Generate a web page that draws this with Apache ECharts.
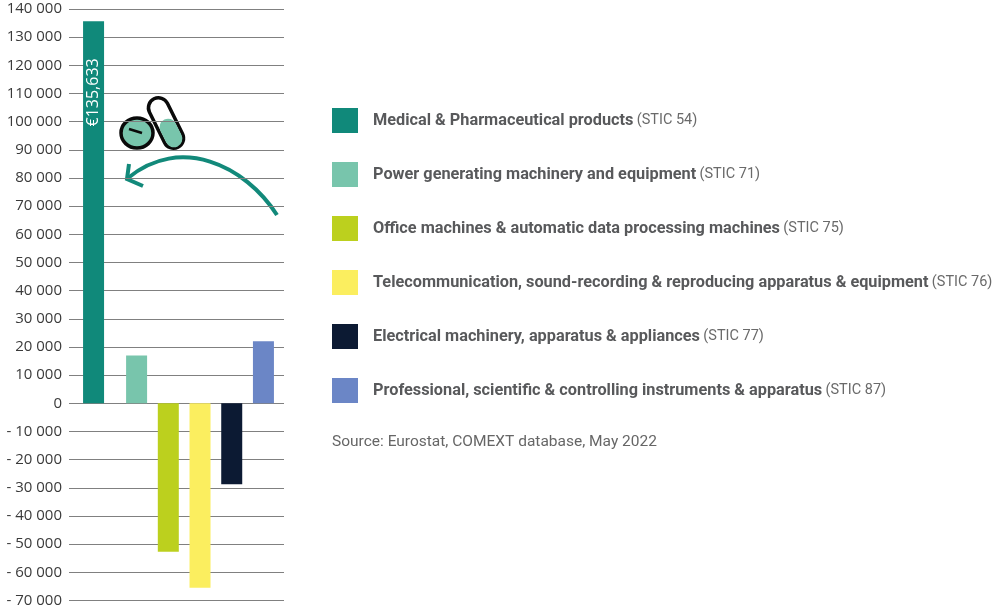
<!DOCTYPE html>
<html>
<head>
<meta charset="utf-8">
<style>
html, body { margin: 0; padding: 0; background: #fff; }
#chart { width: 995px; height: 608px; }
</style>
<script src="https://cdn.jsdelivr.net/npm/echarts@6/dist/echarts.min.js"></script>
</head>
<body>
<div id="chart"></div>
<script>
const productNames = [
	'Medical & Pharmaceutical products',
	'Power generating machinery and equipment',
	'Office machines & automatic data processing machines',
	'Telecommunication, sound-recording & reproducing apparatus & equipment',
	'Electrical machinery, apparatus & appliances',
	'Professional, scientific & controlling instruments & apparatus',
]
const sticCodes = ['STIC 54', 'STIC 71', 'STIC 75', 'STIC 76', 'STIC 77', 'STIC 87']
const balanceValues = [135633, 17000, -52700, -65500, -28700, 22000]
const barColors = ['#10897a', '#78c5ac', '#bcd01e', '#fbee5f', '#0c1a33', '#6b86c6']
const sourceText = 'Source: Eurostat, COMEXT database, May 2022'

const seriesNames = productNames.map((n, i) => `${n} (${sticCodes[i]})`)
const axisFont = '"Open Sans", "Noto Sans", sans-serif'
const legendFont = 'Roboto, "Noto Sans", sans-serif'

const bars = balanceValues.map((v, i) => ({
	type: 'bar',
	name: seriesNames[i],
	data: [v],
	barWidth: 21,
	barGap: '51%',
	itemStyle: { color: barColors[i] },
	label: i === 0 ? {
		show: true,
		position: 'insideTop',
		distance: 37,
		rotate: 90,
		align: 'right',
		verticalAlign: 'middle',
		color: '#fff',
		fontFamily: axisFont,
		fontSize: 16,
		formatter: () => '€' + v.toLocaleString('en-US'),
	} : { show: false },
}))
// empty bar, only there to open the wider gap after the first bar
bars.splice(1, 0, { type: 'bar', name: 'gap', data: [null], barWidth: 7.5, barGap: '51%' })

const myChart = echarts.init(document.getElementById('chart'))
myChart.setOption({
	animation: false,
	title: {
		text: sourceText,
		left: 332,
		top: 434,
		padding: 0,
		textStyle: { color: '#666', fontFamily: legendFont, fontSize: 15.5, fontWeight: 'normal' },
	},
	grid: { left: 73, right: 711, top: 9, height: 592, containLabel: false },
	legend: {
		orient: 'vertical',
		left: 332,
		top: 108,
		padding: 0,
		itemWidth: 26,
		itemHeight: 25,
		itemGap: 29,
		icon: 'rect',
		data: seriesNames,
		selectedMode: false,
		formatter: (name) => {
			const i = seriesNames.indexOf(name)
			return `{b|${productNames[i]}} {r|(${sticCodes[i]})}`
		},
		textStyle: {
			rich: {
				b: { color: '#58595b', fontFamily: legendFont, fontSize: 16.3, fontWeight: 'bold', padding: [0, 0, 0, 10] },
				r: { color: '#6a6a6a', fontFamily: legendFont, fontSize: 14.5 },
			},
		},
	},
	xAxis: {
		type: 'category',
		data: ['Balance'],
		axisLine: { show: false },
		axisTick: { show: false },
		axisLabel: { show: false },
	},
	yAxis: {
		type: 'value',
		min: -70000,
		max: 140000,
		interval: 10000,
		axisLine: { show: false },
		axisTick: { show: true, length: 4, lineStyle: { color: '#808080' } },
		axisLabel: {
			margin: 11,
			color: '#3a3a3a',
			fontFamily: axisFont,
			fontSize: 15,
			formatter: (v) => {
				const s = String(Math.abs(v)).replace(/\B(?=(\d{3})+$)/g, ' ')
				return v < 0 ? '- ' + s : s
			},
		},
		splitLine: { show: true, lineStyle: { color: '#808080', width: 1 } },
	},
	series: bars,
	graphic: [
		{ type: 'rect', silent: true, x: 166, y: 123, rotation: 0.46,
			shape: { x: -10, y: -27, width: 20, height: 54, r: 10 },
			style: { fill: '#fff', stroke: '#0a0a0a', lineWidth: 3.5 } },
		{ type: 'rect', silent: true, x: 171, y: 133, rotation: 0.46,
			shape: { x: -8.5, y: -15, width: 17, height: 30, r: 8.5 },
			style: { fill: '#78c5ac' } },
		{ type: 'ellipse', silent: true,
			shape: { cx: 137, cy: 133, rx: 16, ry: 15 },
			style: { fill: '#78c5ac', stroke: '#0a0a0a', lineWidth: 3.5 } },
		{ type: 'line', silent: true,
			shape: { x1: 129, y1: 129, x2: 142, y2: 133 },
			style: { stroke: '#0a0a0a', lineWidth: 2.5 } },
		{ type: 'bezierCurve', silent: true,
			shape: { x1: 277, y1: 215, cpx1: 245, cpy1: 165, cpx2: 180, cpy2: 135, x2: 128, y2: 178 },
			style: { stroke: '#12897a', lineWidth: 4, fill: 'none' } },
		{ type: 'polyline', silent: true,
			shape: { points: [[129, 164], [127, 179], [143, 186]] },
			style: { stroke: '#12897a', lineWidth: 4, fill: 'none' } },
	],
})
</script>
</body>
</html>
